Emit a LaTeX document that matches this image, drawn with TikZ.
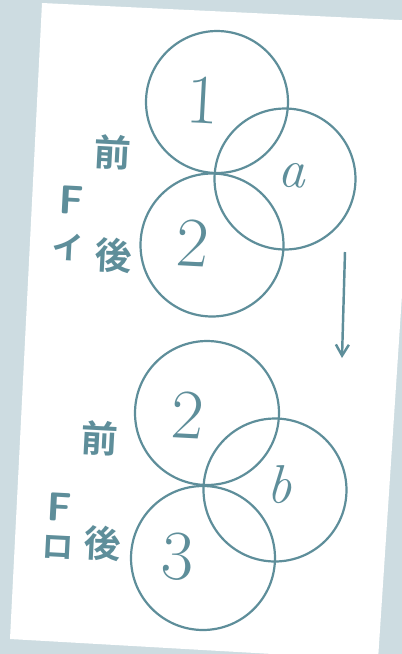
\documentclass[tikz,border=0pt]{standalone}
\usepackage{fontspec}
\newfontfamily\jpfont{Noto Sans CJK JP}[BoldFont={* Bold}]
\usetikzlibrary{arrows.meta}
\definecolor{ink}{HTML}{5E8E9A}
\definecolor{board}{HTML}{CDDCE1}

\begin{document}
\begin{tikzpicture}[x=0.02cm,y=-0.02cm,
    ring/.style={draw=ink,line width=1.25pt},
    digit/.style={text=ink,rotate=-3,font=\fontsize{40}{40}\selectfont},
    letter/.style={text=ink,rotate=-3,font=\fontsize{31}{31}\selectfont\itshape},
    kanji/.style={text=ink,rotate=-3,font=\jpfont\bfseries\fontsize{21}{21}\selectfont},
    kana/.style={text=ink,rotate=-3,inner sep=0.5pt,font=\jpfont\bfseries\fontsize{18}{18}\selectfont},
    fmark/.style={text=ink,rotate=-3,inner sep=0.5pt,font=\sffamily\bfseries\fontsize{23}{23}\selectfont}]
    % Achtergrond en papier
    \useasboundingbox[fill=board] (0,0) rectangle (402,654);
    \fill[white] (42,3) -- (420,21) -- (378,660) -- (10,639) -- cycle;
    % Bovenste groep: cirkels 1, a, 2
    \coordinate (top1) at (217,102);
    \coordinate (topa) at (285,179);
    \coordinate (top2) at (212,245);
    \draw[ring] (top1) circle (1.42cm);
    \draw[ring] (topa) circle (1.41cm);
    \draw[ring] (top2) circle (1.43cm);
    \node[digit] (lab1) at (203,100) {1};
    \node[letter] (laba) at (292,175) {a};
    \node[digit] (lab2) at (193,243) {2};
    % Tekst links: F-i, voor en achter
    \node[kanji] (voor1) at (113,152) {前};
    \node[fmark] (f1) at (72,200) {F};
    \node[kana] (i1) at (68,247) {イ};
    \node[kanji] (achter1) at (114,255) {後};
    % Pijl naar beneden
    \coordinate (pijlbegin) at (345,252);
    \coordinate (pijleind) at (342,358);
    \draw[ink,line width=1.4pt,-{Straight Barb[length=2.2mm,width=2.6mm]}] (pijlbegin) -- (pijleind);
    % Onderste groep: cirkels 2, b, 3
    \coordinate (bot2) at (207,413);
    \coordinate (botb) at (275,490);
    \coordinate (bot3) at (203,558);
    \draw[ring] (bot2) circle (1.44cm);
    \draw[ring] (botb) circle (1.43cm);
    \draw[ring] (bot3) circle (1.44cm);
    \node[digit] (labtwee) at (188,415) {2};
    \node[letter] (labb) at (280,485) {b};
    \node[digit] (lab3) at (178,557) {3};
    % Tekst links: F-ro, voor en achter
    \node[kanji] (voor2) at (100,438) {前};
    \node[fmark] (f2) at (60,507) {F};
    \node[kana] (ro2) at (58,547) {ロ};
    \node[kanji] (achter2) at (103,543) {後};
\end{tikzpicture}
\end{document}
